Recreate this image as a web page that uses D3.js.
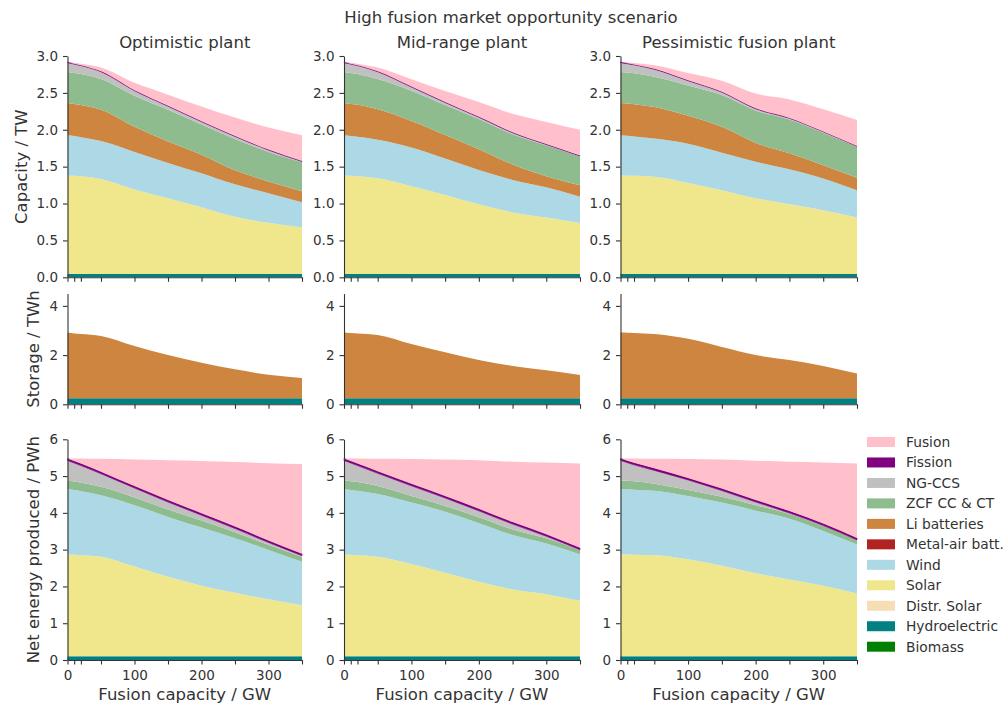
<!DOCTYPE html>
<html>
<head>
<meta charset="utf-8">
<script src="https://cdn.jsdelivr.net/npm/d3@7"></script>
<style>
  html, body { margin: 0; padding: 0; background: #fff; }
  text { font-family: "DejaVu Sans", sans-serif; fill: #333; }
</style>
</head>
<body>
<svg id="chart" width="1008" height="710"></svg>
<script>
// ---------------- DATA ----------------
const fusionGW = [0, 10, 20, 50, 100, 150, 200, 250, 300, 350];
const xTickLabels = [0, 100, 200, 300];
const scenarios = ["Optimistic plant", "Mid-range plant", "Pessimistic fusion plant"];
const suptitle = "High fusion market opportunity scenario";
const rowLabels = ["Capacity / TW", "Storage / TWh", "Net energy produced / PWh"];
const xLabel = "Fusion capacity / GW";

// stacking order, bottom to top
const techs = ["Biomass", "Hydroelectric", "Distr. Solar", "Solar", "Wind", "Metal-air batt.",
               "Li batteries", "ZCF CC & CT", "NG-CCS", "Fission", "Fusion"];
const techColors = ["#008000", "#008080", "#F5DEB3", "#F0E68C", "#ADD8E6", "#B22222",
                    "#CD853F", "#8FBC8F", "#C0C0C0", "#800080", "#FFC0CB"];

// Capacity (TW)
const capOptimistic = {
  "Hydroelectric": [0.045,0.045,0.045,0.045,0.045,0.045,0.045,0.045,0.045,0.045],
  "Solar":         [1.335,1.330,1.325,1.288,1.145,1.025,0.905,0.775,0.695,0.633],
  "Wind":          [0.545,0.540,0.530,0.515,0.510,0.480,0.460,0.440,0.400,0.339],
  "Li batteries":  [0.438,0.435,0.435,0.424,0.340,0.290,0.250,0.190,0.160,0.149],
  "ZCF CC & CT":   [0.420,0.420,0.420,0.416,0.420,0.430,0.410,0.425,0.400,0.397],
  "NG-CCS":        [0.127,0.120,0.115,0.099,0.070,0.050,0.040,0.035,0.025,0.007],
  "Fission":       [0.006,0.006,0.006,0.006,0.006,0.006,0.006,0.006,0.006,0.006],
  "Fusion":        [0,0.01,0.02,0.05,0.10,0.15,0.20,0.25,0.30,0.35]
};
const capMidRange = {
  "Hydroelectric": [0.045,0.045,0.045,0.045,0.045,0.045,0.045,0.045,0.045,0.045],
  "Solar":         [1.335,1.330,1.325,1.297,1.190,1.070,0.945,0.835,0.765,0.691],
  "Wind":          [0.545,0.540,0.535,0.524,0.525,0.495,0.465,0.440,0.410,0.357],
  "Li batteries":  [0.438,0.435,0.435,0.411,0.360,0.320,0.280,0.210,0.150,0.154],
  "ZCF CC & CT":   [0.420,0.420,0.415,0.411,0.410,0.405,0.410,0.410,0.420,0.393],
  "NG-CCS":        [0.127,0.120,0.115,0.099,0.050,0.035,0.025,0.020,0.010,0.005],
  "Fission":       [0.006,0.006,0.006,0.006,0.006,0.006,0.006,0.006,0.006,0.006],
  "Fusion":        [0,0.01,0.02,0.05,0.10,0.15,0.20,0.25,0.30,0.35]
};
const capPessimistic = {
  "Hydroelectric": [0.045,0.045,0.045,0.045,0.045,0.045,0.045,0.045,0.045,0.045],
  "Solar":         [1.335,1.333,1.330,1.319,1.235,1.135,1.025,0.945,0.865,0.765],
  "Wind":          [0.545,0.542,0.535,0.516,0.530,0.510,0.497,0.474,0.430,0.370],
  "Li batteries":  [0.438,0.435,0.435,0.430,0.380,0.350,0.255,0.216,0.180,0.170],
  "ZCF CC & CT":   [0.420,0.420,0.420,0.410,0.410,0.430,0.440,0.460,0.440,0.420],
  "NG-CCS":        [0.127,0.120,0.115,0.100,0.065,0.040,0.023,0.015,0.012,0.005],
  "Fission":       [0.006,0.006,0.006,0.006,0.006,0.006,0.006,0.006,0.006,0.006],
  "Fusion":        [0,0.01,0.02,0.05,0.10,0.15,0.20,0.25,0.30,0.35]
};

// Storage (TWh)
const stoOptimistic = {
  "Hydroelectric": [0.245,0.245,0.245,0.245,0.245,0.245,0.245,0.245,0.245,0.245],
  "Li batteries":  [2.675,2.635,2.615,2.535,2.125,1.755,1.445,1.175,0.955,0.825]
};
const stoMidRange = {
  "Hydroelectric": [0.245,0.245,0.245,0.245,0.245,0.245,0.245,0.245,0.245,0.245],
  "Li batteries":  [2.675,2.655,2.635,2.575,2.205,1.875,1.555,1.315,1.135,0.945]
};
const stoPessimistic = {
  "Hydroelectric": [0.245,0.245,0.245,0.245,0.245,0.245,0.245,0.245,0.245,0.245],
  "Li batteries":  [2.675,2.665,2.655,2.615,2.415,2.085,1.755,1.555,1.315,1.005]
};

// Net energy (PWh)
const nrgOptimistic = {
  "Hydroelectric": [0.10,0.10,0.10,0.10,0.10,0.10,0.10,0.10,0.10,0.10],
  "Distr. Solar":  [0.01,0.01,0.01,0.01,0.01,0.01,0.01,0.01,0.01,0.01],
  "Solar":         [2.76,2.75,2.74,2.70,2.43,2.15,1.91,1.72,1.54,1.38],
  "Wind":          [1.78,1.76,1.74,1.67,1.67,1.63,1.58,1.48,1.34,1.18],
  "ZCF CC & CT":   [0.23,0.23,0.23,0.23,0.21,0.20,0.19,0.16,0.14,0.14],
  "NG-CCS":        [0.545,0.505,0.465,0.355,0.255,0.205,0.145,0.105,0.065,0.025],
  "Fission":       [0.055,0.055,0.055,0.055,0.055,0.055,0.055,0.055,0.055,0.055],
  "Fusion":        [0,0.07,0.14,0.35,0.72,1.08,1.42,1.75,2.10,2.44]
};
const nrgMidRange = {
  "Hydroelectric": [0.10,0.10,0.10,0.10,0.10,0.10,0.10,0.10,0.10,0.10],
  "Distr. Solar":  [0.01,0.01,0.01,0.01,0.01,0.01,0.01,0.01,0.01,0.01],
  "Solar":         [2.76,2.75,2.74,2.70,2.50,2.26,2.02,1.81,1.68,1.50],
  "Wind":          [1.78,1.76,1.75,1.70,1.67,1.66,1.59,1.48,1.38,1.26],
  "ZCF CC & CT":   [0.23,0.24,0.24,0.22,0.18,0.16,0.16,0.15,0.14,0.12],
  "NG-CCS":        [0.545,0.495,0.445,0.345,0.275,0.215,0.175,0.145,0.055,0.005],
  "Fission":       [0.055,0.055,0.055,0.055,0.055,0.055,0.055,0.055,0.055,0.055],
  "Fusion":        [0,0.07,0.14,0.34,0.675,0.99,1.32,1.64,1.95,2.29]
};
const nrgPessimistic = {
  "Hydroelectric": [0.10,0.10,0.10,0.10,0.10,0.10,0.10,0.10,0.10,0.10],
  "Distr. Solar":  [0.01,0.01,0.01,0.01,0.01,0.01,0.01,0.01,0.01,0.01],
  "Solar":         [2.76,2.755,2.75,2.74,2.63,2.45,2.25,2.08,1.91,1.70],
  "Wind":          [1.78,1.775,1.77,1.75,1.72,1.72,1.70,1.65,1.49,1.33],
  "ZCF CC & CT":   [0.23,0.23,0.23,0.19,0.16,0.16,0.15,0.13,0.13,0.12],
  "NG-CCS":        [0.545,0.495,0.445,0.365,0.275,0.165,0.085,0.025,0.015,0.005],
  "Fission":       [0.055,0.055,0.055,0.055,0.055,0.055,0.055,0.055,0.055,0.055],
  "Fusion":        [0,0.06,0.12,0.26,0.515,0.79,1.07,1.34,1.66,2.02]
};

const capTicks = [0, 0.5, 1.0, 1.5, 2.0, 2.5, 3.0];
const stoTicks = [0, 2, 4];
const nrgTicks = [0, 1, 2, 3, 4, 5, 6];

// ---------------- LAYOUT ----------------
const colRanges = [[67.5, 302], [344, 580], [620.5, 857]];
const rowDefs = [
  { panels: [capOptimistic, capMidRange, capPessimistic], domain: [0, 3], range: [277.3, 56], ticks: capTicks, fmt: d3.format(".1f") },
  { panels: [stoOptimistic, stoMidRange, stoPessimistic], domain: [0, 4.5], range: [404.3, 293.6], ticks: stoTicks, fmt: d3.format("d") },
  { panels: [nrgOptimistic, nrgMidRange, nrgPessimistic], domain: [0, 6], range: [660, 439.3], ticks: nrgTicks, fmt: d3.format("d") }
];

const svg = d3.select("#chart");
svg.append("rect").attr("width", 1008).attr("height", 710).attr("fill", "#fff");

const stack = d3.stack().keys(techs).value((row, key) => row[key]);

rowDefs.forEach((row, ri) => {
  const y = d3.scaleLinear().domain(row.domain).range(row.range);
  row.panels.forEach((panel, ci) => {
    const x = d3.scaleLinear().domain([0, 350]).range(colRanges[ci]);
    const rows = fusionGW.map((gw, i) => {
      const r = { gw };
      techs.forEach(t => { r[t] = panel[t] ? panel[t][i] : 0; });
      return r;
    });
    const series = stack(rows);
    const area = d3.area()
      .x(d => x(d.data.gw))
      .y0(d => y(d[0]))
      .y1(d => y(d[1]))
      .curve(d3.curveMonotoneX);
    const g = svg.append("g");
    g.selectAll("path.layer")
      .data(series.filter(s => panel[s.key]))
      .join("path")
      .attr("class", "layer")
      .attr("d", area)
      .attr("fill", s => techColors[techs.indexOf(s.key)])
      .attr("stroke", s => s.key === "Fission" ? techColors[techs.indexOf(s.key)] : "none")
      .attr("stroke-width", s => s.key === "Fission" ? 0.6 : 0);

    // Y axis
    const yAxis = d3.axisLeft(y).tickValues(row.ticks).tickFormat(row.fmt).tickSize(4.5).tickPadding(5).tickSizeOuter(0);
    const ya = svg.append("g").attr("transform", `translate(${colRanges[ci][0]},0)`).call(yAxis);
    // X axis
    const xAxis = d3.axisBottom(x).tickValues(fusionGW)
      .tickFormat(d => (ri === 2 && xTickLabels.includes(d)) ? d : "")
      .tickSize(4.5).tickPadding(6).tickSizeOuter(0);
    const xa = svg.append("g").attr("transform", `translate(0,${row.range[0]})`).call(xAxis);
    [ya, xa].forEach(a => {
      a.selectAll("path.domain").attr("stroke", "#333").attr("stroke-width", 1.1);
      a.selectAll(".tick line").attr("stroke", "#333").attr("stroke-width", 1.1);
      a.selectAll(".tick text").style("font-family", "DejaVu Sans").style("font-size", "13.5px").attr("fill", "#333");
    });

    if (ri === 0) {
      svg.append("text").attr("x", (colRanges[ci][0] + colRanges[ci][1]) / 2).attr("y", 48)
        .attr("text-anchor", "middle").style("font-size", "16.5px").text(scenarios[ci]);
    }
    if (ri === 2) {
      svg.append("text").attr("x", (colRanges[ci][0] + colRanges[ci][1]) / 2).attr("y", 700)
        .attr("text-anchor", "middle").style("font-size", "16.5px").text(xLabel);
    }
  });
  const labelX = ri === 0 ? 21 : 33;
  const cy = (row.range[0] + row.range[1]) / 2;
  svg.append("text").attr("transform", `translate(${labelX},${cy}) rotate(-90)`)
    .attr("text-anchor", "middle").attr("dy", "0.35em").style("font-size", "16.5px").text(rowLabels[ri]);
});

svg.append("text").attr("x", 511).attr("y", 23).attr("text-anchor", "middle")
  .style("font-size", "16.5px").text(suptitle);

// Legend (top to bottom: reverse stacking order)
const legendItems = techs.slice().reverse();
const leg = svg.append("g");
legendItems.forEach((t, i) => {
  const cy = 442 + i * 20.47;
  leg.append("rect").attr("x", 867).attr("y", cy - 5).attr("width", 28).attr("height", 10)
    .attr("fill", techColors[techs.indexOf(t)]);
  leg.append("text").attr("x", 906).attr("y", cy).attr("dy", "0.35em")
    .style("font-size", "13.8px").text(t);
});
</script>
</body>
</html>
